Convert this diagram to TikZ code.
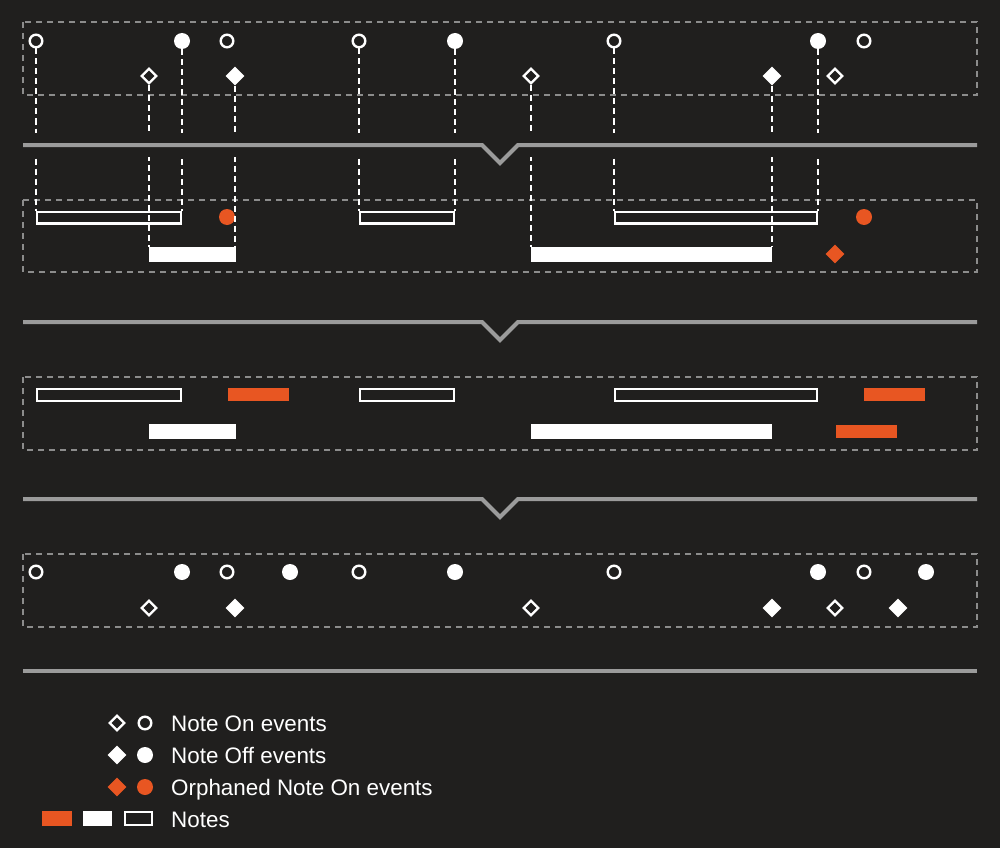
\documentclass[tikz,border=0pt]{standalone}
\usepackage{fontspec}
\setmainfont{Liberation Sans}
\usetikzlibrary{shapes.geometric}
\definecolor{bg}{RGB}{32,31,30}
\definecolor{orng}{RGB}{232,86,34}
\definecolor{sep}{RGB}{155,155,155}
\definecolor{boxg}{RGB}{140,140,140}
\begin{document}
\begin{tikzpicture}[x=1pt,y=-1pt,
  evo/.style={circle,draw=white,line width=2.4pt,minimum size=12.6pt,inner sep=0pt},
  evf/.style={circle,fill=white,minimum size=16pt,inner sep=0pt},
  evr/.style={circle,fill=orng,minimum size=16pt,inner sep=0pt},
  dmo/.style={diamond,draw=white,line width=2.4pt,minimum size=15.5pt,inner sep=0pt},
  dmf/.style={diamond,fill=white,minimum size=19pt,inner sep=0pt},
  dmr/.style={diamond,fill=orng,minimum size=19pt,inner sep=0pt},
  noteo/.style={rectangle,draw=white,line width=2.4pt,minimum height=11.6pt,inner sep=0pt},
  notef/.style={rectangle,fill=white,minimum height=15pt,inner sep=0pt},
  noter/.style={rectangle,fill=orng,minimum height=13pt,inner sep=0pt},
  link/.style={draw=white,line width=1.6pt,dash pattern=on 6pt off 4pt},
  dbox/.style={draw=boxg,line width=1.3pt,dash pattern=on 6pt off 5pt},
  sepline/.style={draw=sep,line width=4pt},
  legtext/.style={anchor=base west,text=white,font=\fontsize{22.4}{26}\selectfont,inner sep=0pt}]
\fill[bg] (0,0) rectangle (1000,848);
\useasboundingbox (0,0) rectangle (1000,848);
% dashed boxes
\draw[dbox] (23,22) rectangle (977,95);
\draw[dbox] (23,200) rectangle (977,272);
\draw[dbox] (23,377) rectangle (977,450);
\draw[dbox] (23,554) rectangle (977,627);
% row 1 events
\node[evo] (a1) at (36,41) {};
\node[evf] (a2) at (182,41) {};
\node[evo] (a3) at (227,41) {};
\node[evo] (a4) at (359,41) {};
\node[evf] (a5) at (455,41) {};
\node[evo] (a6) at (614,41) {};
\node[evf] (a7) at (818,41) {};
\node[evo] (a8) at (864,41) {};
\node[dmo] (b1) at (149,76) {};
\node[dmf] (b2) at (235,76) {};
\node[dmo] (b3) at (531,76) {};
\node[dmf] (b4) at (772,76) {};
\node[dmo] (b5) at (835,76) {};
% row 2 notes
\node[noteo,minimum width=144pt] (o1) at (109,217.5) {};
\node[noteo,minimum width=94pt] (o2) at (407,217.5) {};
\node[noteo,minimum width=202pt] (o3) at (716,217.5) {};
\node[notef,minimum width=87pt] (f1) at (192.5,254.5) {};
\node[notef,minimum width=241pt] (f2) at (651.5,254.5) {};
\node[evr] (r1) at (227,217) {};
\node[evr] (r2) at (864,217) {};
\node[dmr] (r3) at (835,254) {};
% links
\draw[link] (a1.south) -- (a1.south |- o1.north);
\draw[link] (a2.south) -- (a2.south |- o1.north);
\draw[link] (b1.south) -- (b1.south |- f1.north);
\draw[link] (b2.south) -- (b2.south |- f1.north);
\draw[link] (a4.south) -- (a4.south |- o2.north);
\draw[link] (a5.south) -- (a5.south |- o2.north);
\draw[link] (b3.south) -- (b3.south |- f2.north);
\draw[link] (a6.south) -- (a6.south |- o3.north);
\draw[link] (b4.south) -- (b4.south |- f2.north);
\draw[link] (a7.south) -- (a7.south |- o3.north);
% separators
\draw[bg,line width=24pt] (23,145) -- (977,145);
\draw[sepline] (23,145) -- (482,145) -- (500,163) -- (518,145) -- (977,145);
\draw[sepline] (23,322) -- (482,322) -- (500,340) -- (518,322) -- (977,322);
\draw[sepline] (23,499) -- (482,499) -- (500,517) -- (518,499) -- (977,499);
\draw[sepline] (23,671) -- (977,671);
% row 3 notes
\node[noteo,minimum width=144pt] (p1) at (109,395) {};
\node[noteo,minimum width=94pt] (p2) at (407,395) {};
\node[noteo,minimum width=202pt] (p3) at (716,395) {};
\node[noter,minimum width=61pt] (q1) at (258.5,394.5) {};
\node[noter,minimum width=61pt] (q2) at (894.5,394.5) {};
\node[notef,minimum width=87pt] (g1) at (192.5,431.5) {};
\node[notef,minimum width=241pt] (g2) at (651.5,431.5) {};
\node[noter,minimum width=61pt] (q3) at (866.5,431.5) {};
% row 4 events
\node[evo] (c1) at (36,572) {};
\node[evf] (c2) at (182,572) {};
\node[evo] (c3) at (227,572) {};
\node[evf] (c4) at (290,572) {};
\node[evo] (c5) at (359,572) {};
\node[evf] (c6) at (455,572) {};
\node[evo] (c7) at (614,572) {};
\node[evf] (c8) at (818,572) {};
\node[evo] (c9) at (864,572) {};
\node[evf] (c10) at (926,572) {};
\node[dmo] (d1) at (149,608) {};
\node[dmf] (d2) at (235,608) {};
\node[dmo] (d3) at (531,608) {};
\node[dmf] (d4) at (772,608) {};
\node[dmo] (d5) at (835,608) {};
\node[dmf] (d6) at (898,608) {};
% legend
\node[dmo] (l1d) at (117,723) {};
\node[evo] (l1c) at (145,723) {};
\node[legtext] (l1t) at (171,731.5) {Note On events};
\node[dmf] (l2d) at (117,755) {};
\node[evf] (l2c) at (145,755) {};
\node[legtext] (l2t) at (171,763.5) {Note Off events};
\node[dmr] (l3d) at (117,787) {};
\node[evr] (l3c) at (145,787) {};
\node[legtext] (l3t) at (171,795.5) {Orphaned Note On events};
\node[noter,minimum width=30pt,minimum height=15pt] (l4a) at (57,818.5) {};
\node[notef,minimum width=29pt,minimum height=15pt] (l4b) at (97.5,818.5) {};
\node[noteo,minimum width=27pt,minimum height=12.6pt] (l4c) at (138.5,818.5) {};
\node[legtext] (l4t) at (171,827) {Notes};
\end{tikzpicture}
\end{document}
